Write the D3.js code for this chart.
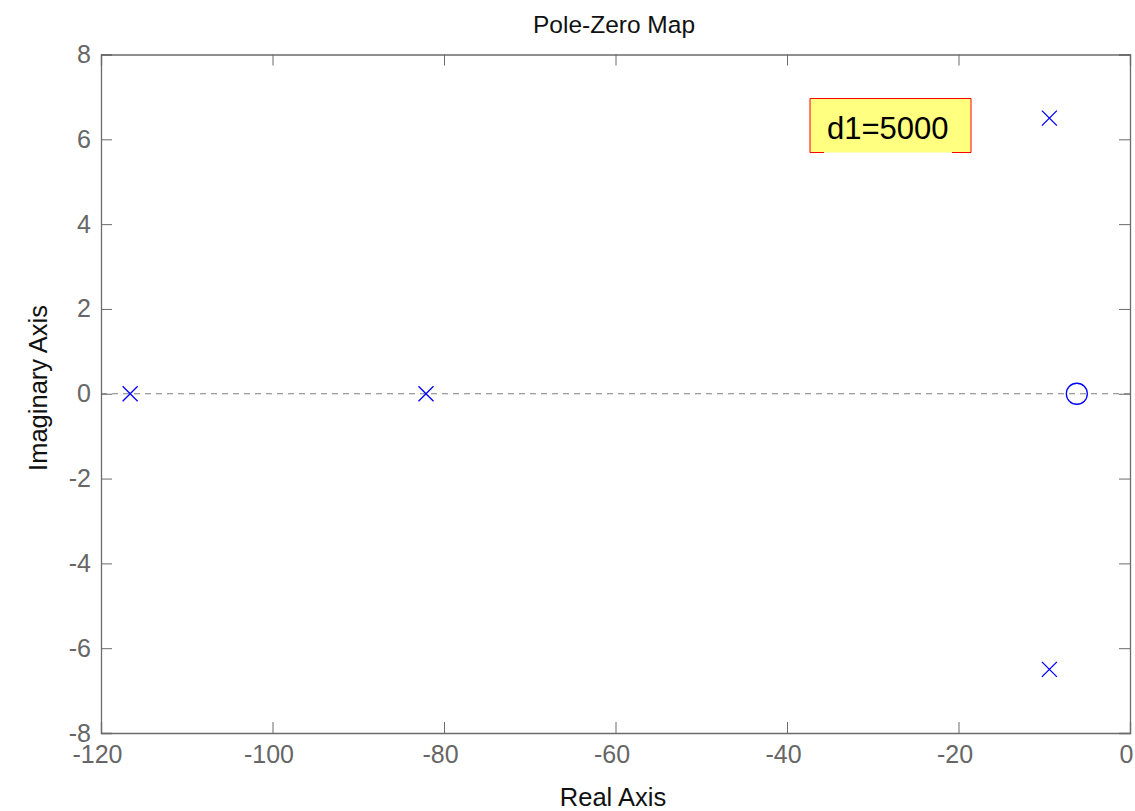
<!DOCTYPE html>
<html>
<head>
<meta charset="utf-8">
<script src="https://cdn.jsdelivr.net/npm/d3@7"></script>
<style>
  body { margin: 0; background: #fff; }
  text { font-family: "Liberation Sans", Arial, sans-serif; }
</style>
</head>
<body>
<svg id="chart" width="1135" height="811"></svg>
<script>
// pole / zero locations
var polesRe = [-116.6, -82.1, -9.4, -9.4];
var polesIm = [0, 0, 6.5, -6.5];
var zerosRe = [-6.2];
var zerosIm = [0];
var xTicks = [-120, -100, -80, -60, -40, -20, 0];
var yTicks = [-8, -6, -4, -2, 0, 2, 4, 6, 8];
var noteText = "d1=5000";

var svg = d3.select("#chart");
var pLeft = 101, pRight = 1130, pTop = 54.5, pBottom = 733;
var axisCol = "#6b6b6b";

var x = d3.scaleLinear().domain([-120, 0]).range([pLeft, pRight]);
var y = d3.scaleLinear().domain([-8, 8]).range([pBottom, pTop]);

// zero line, dashed
svg.append("line")
    .attr("x1", pLeft).attr("x2", pRight)
    .attr("y1", y(0)).attr("y2", y(0))
    .attr("stroke", "#808080")
    .attr("stroke-width", 1)
    .attr("stroke-dasharray", "6,5");

// axes, ticks pointing inwards on all four sides
var tl = 11;
var fmt = function(d){ return String(d); };
var xb = svg.append("g").attr("transform", "translate(0," + pBottom + ")")
    .call(d3.axisBottom(x).tickValues(xTicks).tickSize(-tl).tickPadding(tl + 1).tickFormat(fmt));
xb.selectAll(".tick text").attr("dx", -4);
svg.append("g").attr("transform", "translate(0," + pTop + ")")
    .call(d3.axisTop(x).tickValues(xTicks).tickSize(-tl).tickFormat(""));
svg.append("g").attr("transform", "translate(" + pLeft + ",0)")
    .call(d3.axisLeft(y).tickValues(yTicks).tickSize(-tl).tickPadding(tl - 1).tickFormat(fmt));
svg.append("g").attr("transform", "translate(" + pRight + ",0)")
    .call(d3.axisRight(y).tickValues(yTicks).tickSize(-tl).tickFormat(""));

svg.selectAll(".domain").attr("stroke", axisCol).attr("stroke-width", 1.3);
svg.selectAll(".tick line").attr("stroke", axisCol);
svg.selectAll(".tick text")
    .attr("fill", "#666")
    .style("font-size", "25px")
    .style("font-family", "'Liberation Sans', Arial, sans-serif");

// labels
svg.append("text")
    .attr("x", 614).attr("y", 33)
    .attr("text-anchor", "middle")
    .style("font-size", "24.5px")
    .attr("fill", "#111")
    .text("Pole-Zero Map");
svg.append("text")
    .attr("x", 613).attr("y", 806)
    .attr("text-anchor", "middle")
    .style("font-size", "25.5px")
    .attr("fill", "#111")
    .text("Real Axis");
svg.append("text")
    .attr("transform", "translate(47,388) rotate(-90)")
    .attr("text-anchor", "middle")
    .style("font-size", "25.5px")
    .attr("fill", "#111")
    .text("Imaginary Axis");

// poles
var s = 7.5;
var pg = svg.append("g").selectAll("g")
    .data(polesRe.map(function(d, i){ return [d, polesIm[i]]; }))
    .join("g")
    .attr("transform", function(d){ return "translate(" + x(d[0]) + "," + y(d[1]) + ")"; });
pg.append("path")
    .attr("d", "M" + (-s) + "," + (-s) + "L" + s + "," + s + "M" + (-s) + "," + s + "L" + s + "," + (-s))
    .attr("stroke", "#0000ff")
    .attr("stroke-width", 1.3)
    .attr("fill", "none");

// zeros
svg.append("g").selectAll("circle")
    .data(zerosRe.map(function(d, i){ return [d, zerosIm[i]]; }))
    .join("circle")
    .attr("cx", function(d){ return x(d[0]); })
    .attr("cy", function(d){ return y(d[1]); })
    .attr("r", 10.5)
    .attr("fill", "none")
    .attr("stroke", "#0000ff")
    .attr("stroke-width", 1.3);

// annotation box
var bx = 810, by = 98.5, bw = 161, bh = 54;
svg.append("rect")
    .attr("x", bx).attr("y", by).attr("width", bw).attr("height", bh)
    .attr("fill", "#ffff80");
svg.append("path")
    .attr("d", "M" + (bx + 14) + "," + (by + bh) + "L" + bx + "," + (by + bh) + "L" + bx + "," + by +
               "L" + (bx + bw) + "," + by + "L" + (bx + bw) + "," + (by + bh) + "L" + (bx + bw - 19) + "," + (by + bh))
    .attr("fill", "none")
    .attr("stroke", "#ff0000")
    .attr("stroke-width", 1);
svg.append("text")
    .attr("x", bx + 17).attr("y", by + 40)
    .style("font-size", "31px")
    .attr("fill", "#000")
    .text(noteText);
</script>
</body>
</html>
